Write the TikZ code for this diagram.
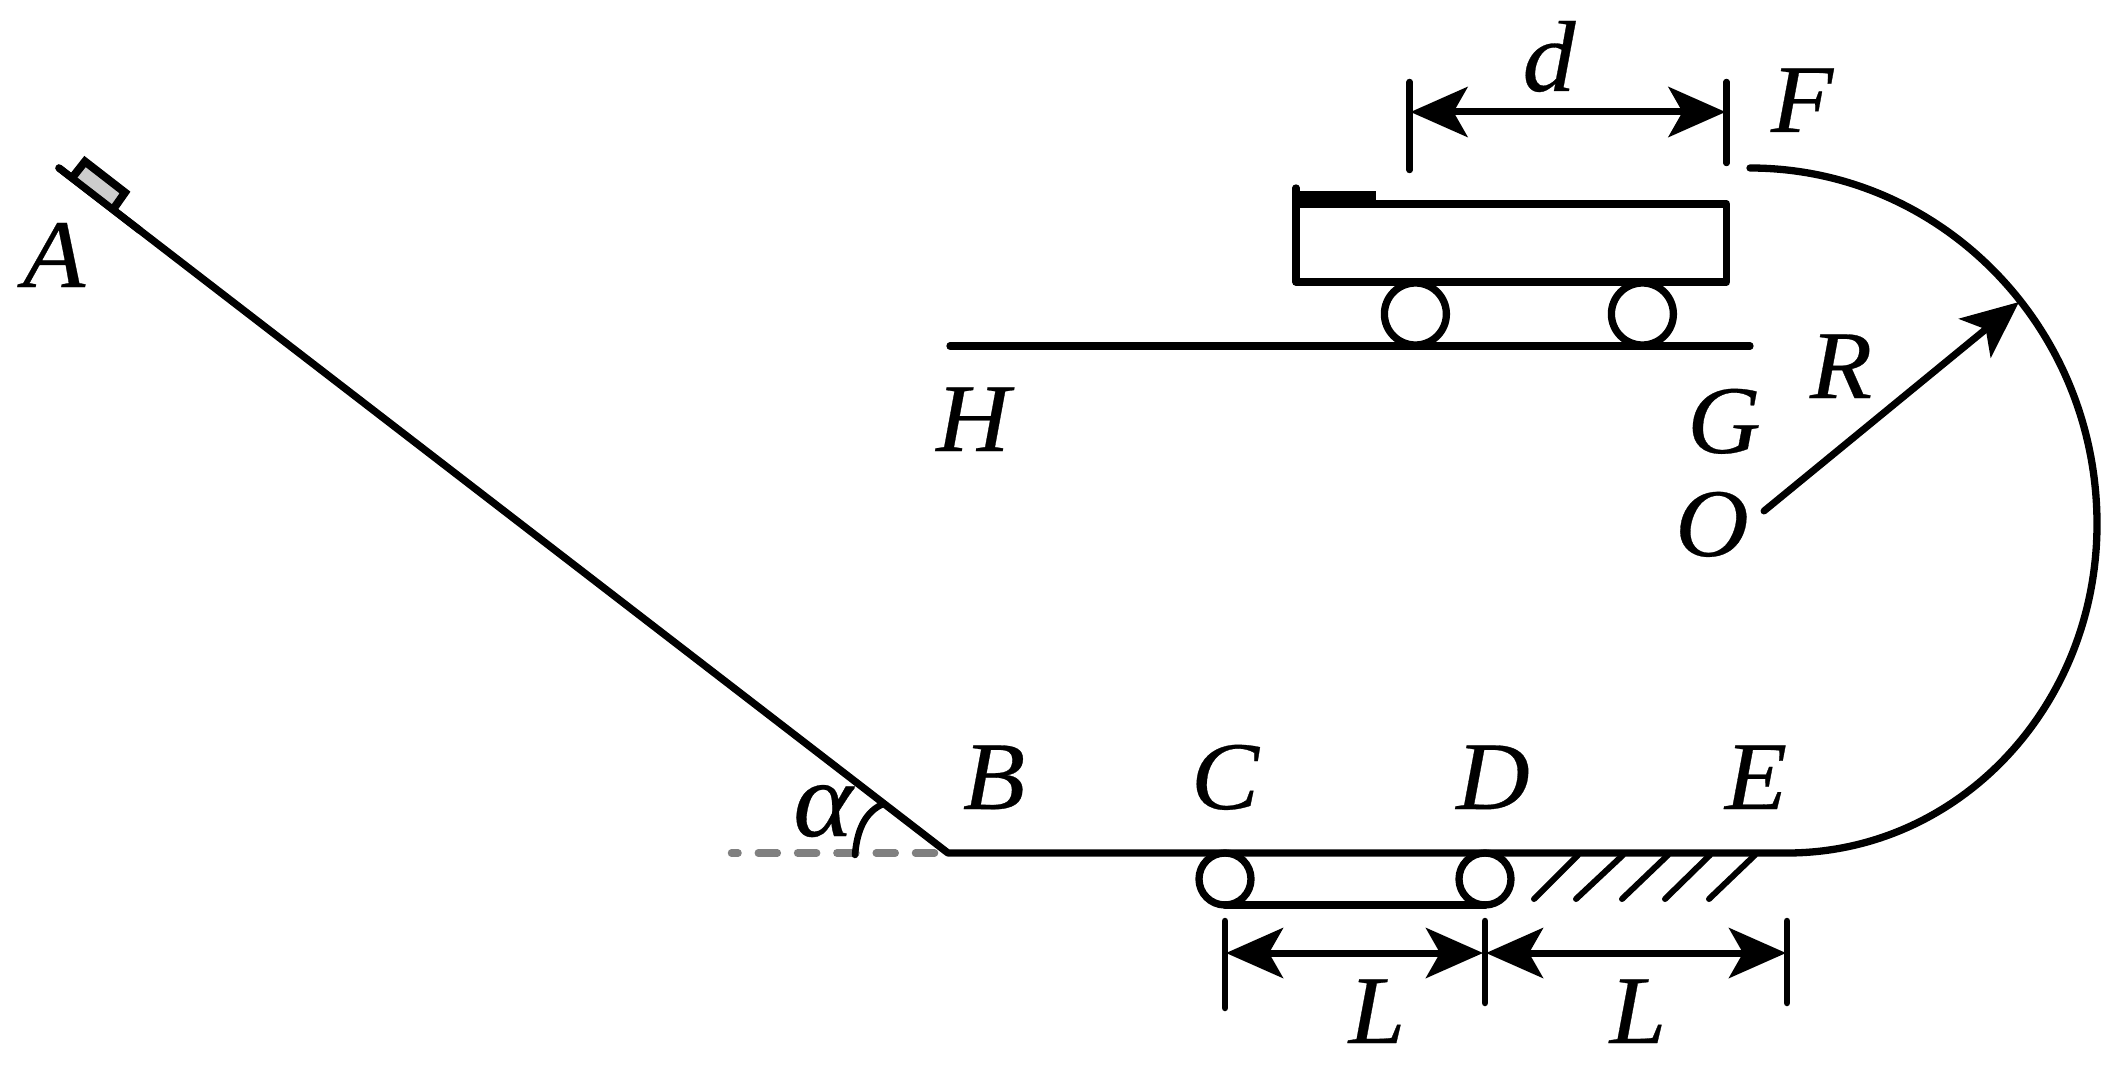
\documentclass[tikz,border=0pt]{standalone}
\usepackage{fontspec}
\setmainfont{Liberation Serif}[ItalicFeatures={FakeStretch=1.05,FakeBold=0.3}]
\usetikzlibrary{arrows.meta}
\definecolor{dashgray}{RGB}{128,128,128}
\definecolor{blockgray}{RGB}{205,205,205}
\tikzset{
  every picture/.style={x=1pt,y=-1pt},
  thickline/.style={line width=7.3pt,line cap=round,line join=round,black},
  tickline/.style={line width=6.5pt,line cap=round,black},
  hatchline/.style={line width=6pt,line cap=round,black},
  dimarrow/.style={line width=7pt,black,
    {Stealth[length=57pt,width=50pt,inset=14pt]}-{Stealth[length=57pt,width=50pt,inset=14pt]}},
  radarrow/.style={line width=7pt,black,line cap=round,
    -{Stealth[length=57pt,width=50pt,inset=14pt]}},
  lab/.style={inner sep=0pt,outer sep=0pt,anchor=base,font=\fontsize{97}{97}\selectfont\itshape},
  dashline/.style={line width=7.5pt,line cap=round,dashgray,dash pattern=on 19pt off 20.3pt}
}
\begin{document}
\begin{tikzpicture}
\useasboundingbox (0,0) rectangle (2118,1070);
\fill[white] (0,0) rectangle (2118,1070);
% named points
\coordinate (Apt) at (59,168);
\coordinate (Bpt) at (948,853);
\coordinate (Ept) at (1787,853);
\coordinate (Fpt) at (1750,168);
\coordinate (Rpt) at (2097,524);
\coordinate (Hpt) at (950,346);
\coordinate (Gpt) at (1750,346);
\coordinate (Dash) at (934.5,853);
\coordinate (DashEnd) at (731.5,853);
\coordinate (Opt) at (1764,511);
\coordinate (Rtip) at (2019,302);
% dashed extension
\draw[dashline] (Dash) -- (DashEnd);
% incline, floor and loop
\draw[thickline] (Apt) -- (Bpt) -- (Ept)
  .. controls (1959,853) and (2097,706) .. (Rpt)
  .. controls (2097,327) and (1941,168) .. (Fpt);
% angle arc
\draw[thickline,line width=6.5pt] (855,855) .. controls (857,830) and (865,812) .. (883,804);
% block at A
\draw[line width=8pt,miter limit=10,fill=blockgray] (72,178) -- (85,161.5) -- (125,192.5) -- (113,209.6);
\draw[thickline] (Apt) -- (140,230.5);
% lower rollers
\draw[thickline] (1225,879) circle[radius=26pt];
\draw[thickline] (1485,879) circle[radius=26pt];
\draw[thickline] (1225,905) -- (1485,905);
% hatching
\draw[hatchline] (1534,899) -- (1578,855);
\draw[hatchline] (1576,899) -- (1623,855);
\draw[hatchline] (1622,899) -- (1668,855);
\draw[hatchline] (1665,899) -- (1710,855);
\draw[hatchline] (1709,899) -- (1755,855);
% lower dimensions
\coordinate (T1) at (1225,921); \coordinate (T1b) at (1225,1008);
\coordinate (T2) at (1485,921); \coordinate (T2b) at (1485,1003);
\coordinate (T3) at (1787,921); \coordinate (T3b) at (1787,1003);
\draw[tickline] (T1) -- (T1b);
\draw[tickline] (T2) -- (T2b);
\draw[tickline] (T3) -- (T3b);
\coordinate (L1a) at (1226,953); \coordinate (L1b) at (1483,953);
\coordinate (L2a) at (1486,953); \coordinate (L2b) at (1786,953);
\draw[dimarrow] (L1a) -- (L1b);
\draw[dimarrow] (L2a) -- (L2b);
% cart
\draw[thickline] (1296,188) -- (1296,282) -- (1726.6,282) -- (1726.6,204) -- (1296,204);
\fill[black] (1296,191) rectangle (1376,204);
\draw[thickline] (1415.4,314) circle[radius=31pt];
\draw[thickline] (1642.4,314) circle[radius=31pt];
\draw[thickline] (Hpt) -- (Gpt);
% upper dimension
\coordinate (T4) at (1409.7,82); \coordinate (T4b) at (1409.7,170);
\coordinate (T5) at (1726.6,82); \coordinate (T5b) at (1726.6,163);
\draw[tickline] (T4) -- (T4b);
\draw[tickline] (T5) -- (T5b);
\coordinate (Da) at (1410.5,112); \coordinate (Db) at (1725.5,112);
\draw[dimarrow] (Da) -- (Db);
% radius
\draw[radarrow] (Opt) -- (Rtip);
% labels
\node[lab] (labA) at (54,287) {A};
\node[lab] (labB) at (994,809) {B};
\node[lab] (labC) at (1225,809) {C};
\node[lab] (labD) at (1493,809) {D};
\node[lab] (labE) at (1756,809) {E};
\node[lab] (labF) at (1802,132) {F};
\node[lab] (labG) at (1724,453) {G};
\node[lab] (labH) at (973,451) {H};
\node[lab] (labO) at (1712,556) {O};
\node[lab] (labR) at (1841,398) {R};
\node[lab,font=\fontsize{101}{101}\selectfont\itshape] (labd) at (1549,91) {d};
\node[lab] (labL1) at (1377,1043) {L};
\node[lab] (labL2) at (1638,1043) {L};
\node[lab,font=\fontsize{108}{108}\selectfont\itshape] (labalpha) at (823,836) {α};
\end{tikzpicture}
\end{document}
